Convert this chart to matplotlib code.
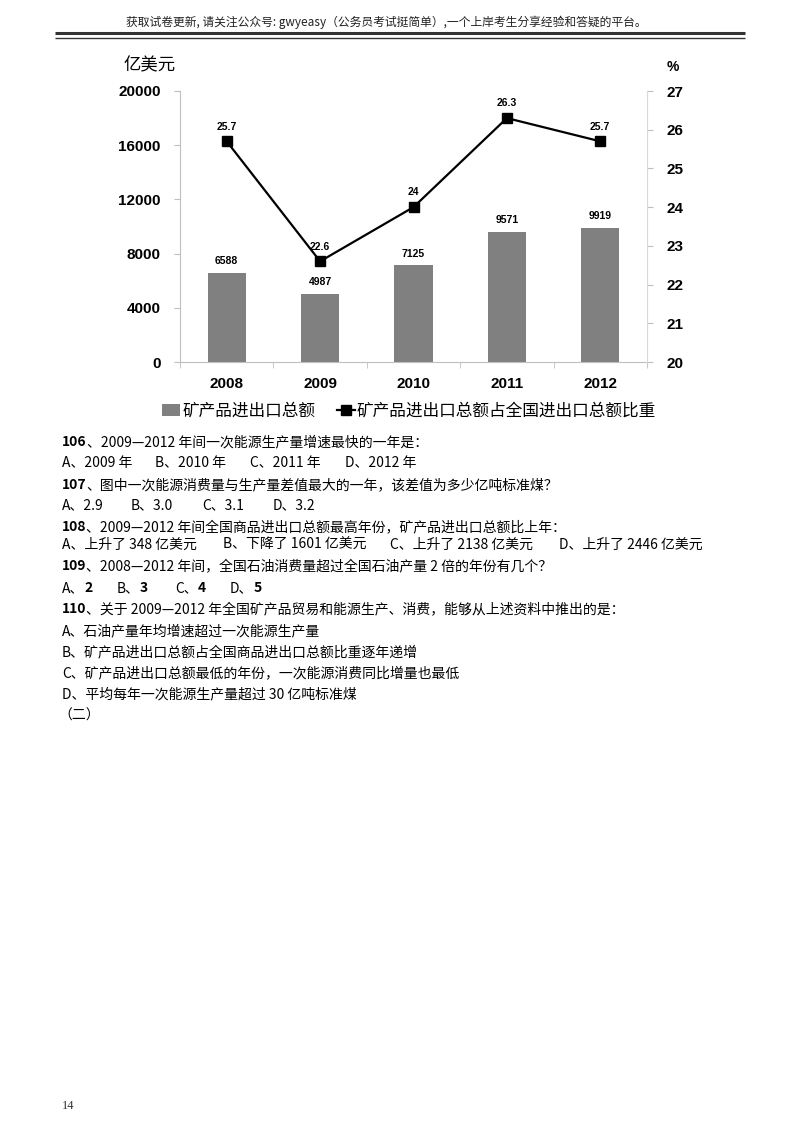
import numpy as np
import matplotlib.pyplot as plt

plt.rcParams['font.family'] = ['Noto Sans CJK SC', 'DejaVu Sans']

# 图表数据
years = ['2008', '2009', '2010', '2011', '2012']
trade = [6588, 4987, 7125, 9571, 9919]          # 矿产品进出口总额（亿美元）
share = [25.7, 22.6, 24, 26.3, 25.7]             # 占全国进出口总额比重（%）
share_labels = ['25.7', '22.6', '24', '26.3', '25.7']
left_ticks = [0, 4000, 8000, 12000, 16000, 20000]
right_ticks = [20, 21, 22, 23, 24, 25, 26, 27]

header = '获取试卷更新, 请关注公众号: gwyeasy（公务员考试挺简单）,一个上岸考生分享经验和答疑的平台。'

# 题目文字：(题号, 题干)
questions = [
    ('106', '、2009—2012 年间一次能源生产量增速最快的一年是：'),
    ('107', '、图中一次能源消费量与生产量差值最大的一年，该差值为多少亿吨标准煤？'),
    ('108', '、2009—2012 年间全国商品进出口总额最高年份，矿产品进出口总额比上年：'),
    ('109', '、2008—2012 年间，全国石油消费量超过全国石油产量 2 倍的年份有几个？'),
    ('110', '、关于 2009—2012 年全国矿产品贸易和能源生产、消费，能够从上述资料中推出的是：'),
]
opts106 = ['A、2009 年', 'B、2010 年', 'C、2011 年', 'D、2012 年']
opts107 = ['A、2.9', 'B、3.0', 'C、3.1', 'D、3.2']
opts108 = ['A、上升了 348 亿美元', 'B、下降了 1601 亿美元', 'C、上升了 2138 亿美元', 'D、上升了 2446 亿美元']
opts109 = [('A、', '2'), ('B、', '3'), ('C、', '4'), ('D、', '5')]
opts110 = ['A、石油产量年均增速超过一次能源生产量',
           'B、矿产品进出口总额占全国商品进出口总额比重逐年递增',
           'C、矿产品进出口总额最低的年份，一次能源消费同比增量也最低',
           'D、平均每年一次能源生产量超过 30 亿吨标准煤']

W, H = 800, 1132
fig = plt.figure(figsize=(W / 100, H / 100), dpi=100)

# ── 文字层（像素坐标）──────────────────────────────
tx = fig.add_axes([0, 0, 1, 1])
tx.set_xlim(0, W); tx.set_ylim(H, 0); tx.axis('off')

tx.text(386, 22, header, ha='center', va='center', fontsize=8.5, color='#222222')
tx.plot([55, 745], [33, 33], color='#333333', lw=2.2, solid_capstyle='butt')
tx.plot([55, 745], [37.5, 37.5], color='#333333', lw=1.0, solid_capstyle='butt')

fs = 10
def q_line(y, num, rest):
    t = tx.text(62, y, num, fontsize=fs, fontweight='bold', va='center', ha='left')
    tx.annotate(rest, xy=(1, 0.5), xycoords=t, va='center', ha='left', fontsize=fs)

def opt_line(y, opts, xs):
    for o, x in zip(opts, xs):
        tx.text(x, y, o, fontsize=fs, va='center', ha='left')

q_line(442, *questions[0])
opt_line(463, opts106, [62, 155, 250, 345])
q_line(485, *questions[1])
opt_line(505, opts107, [62, 131, 202, 273])
q_line(527, *questions[2])
opt_line(545, opts108, [62, 223, 390, 559])
q_line(566, *questions[3])
for (letter, num), x in zip(opts109, [62, 117, 175, 230]):
    t = tx.text(x, 588, letter, fontsize=fs, va='center', ha='left')
    tx.annotate(num, xy=(1, 0.5), xycoords=t, va='center', ha='left',
                fontsize=fs, fontweight='bold')
q_line(609, *questions[4])
for i, o in enumerate(opts110):
    tx.text(62, 631 + i * 21.2, o, fontsize=fs, va='center', ha='left')
tx.text(58, 716, '（二）', fontsize=fs, va='center', ha='left')
tx.text(62, 1106, '14', fontsize=9, va='center', ha='left', color='#333333',
        family=['Liberation Serif'])

# ── 图表 ──────────────────────────────────────────
left, right, top, bottom = 180, 647, 91, 362
ax = fig.add_axes([left / W, 1 - bottom / H, (right - left) / W, (bottom - top) / H])
x = np.arange(len(years))
bars = ax.bar(x, trade, width=0.41, color='#808080', label='矿产品进出口总额', zorder=2)
ax.set_xlim(-0.5, len(years) - 0.5)
ax.set_ylim(0, 20000)
ax.set_yticks(left_ticks)
ax.set_yticklabels([str(v) for v in left_ticks], family=['Liberation Sans'],
                   fontweight='bold', fontsize=11)
ax.set_xticks(x)
ax.set_xticklabels(years, family=['Liberation Sans'], fontweight='bold', fontsize=11)
ax.set_xticks(np.arange(-0.5, len(years)), minor=True)
ax.tick_params(axis='x', which='major', length=0, pad=11)
ax.tick_params(axis='x', which='minor', length=4, color='#bfbfbf', direction='out')
ax.tick_params(axis='y', length=4, color='#bfbfbf', pad=10)
for s in ['top', 'right']:
    ax.spines[s].set_visible(False)
for s in ['left', 'bottom']:
    ax.spines[s].set_color('#bfbfbf')
for b, v in zip(bars, trade):
    ax.annotate(str(v), (b.get_x() + b.get_width() / 2, v), xytext=(0, 5),
                textcoords='offset points', ha='center', va='bottom',
                fontsize=7.5, fontweight='bold', family=['Liberation Sans'])

ax2 = ax.twinx()
ax2.plot(x, share, color='black', lw=1.6, marker='s', markersize=7,
         label='矿产品进出口总额占全国进出口总额比重')
ax2.set_ylim(20, 27)
ax2.set_yticks(right_ticks)
ax2.set_yticklabels([str(v) for v in right_ticks], family=['Liberation Sans'],
                    fontweight='bold', fontsize=11)
ax2.tick_params(axis='y', length=4, color='#bfbfbf', pad=10)
for s in ['top', 'left', 'bottom']:
    ax2.spines[s].set_visible(False)
ax2.spines['right'].set_color('#d9d9d9')
for xi, v, lab in zip(x, share, share_labels):
    ax2.annotate(lab, (xi, v), xytext=(0, 7), textcoords='offset points',
                 ha='center', va='bottom', fontsize=7.5, fontweight='bold',
                 family=['Liberation Sans'])

tx.text(124, 65, '亿美元', fontsize=12.5, va='center', ha='left')
tx.text(667, 67, '%', fontsize=10, va='center', ha='left', fontweight='bold',
        family=['Liberation Sans'])

h1, l1 = ax.get_legend_handles_labels()
h2, l2 = ax2.get_legend_handles_labels()
fig.legend(h1 + h2, l1 + l2, loc='center', bbox_to_anchor=(409 / W, 1 - 411 / H),
           ncol=2, frameon=False, fontsize=12, handlelength=1.1,
           handletextpad=0.1, columnspacing=1.3, borderpad=0)

fig.savefig('out.png', dpi=100, facecolor='white')
